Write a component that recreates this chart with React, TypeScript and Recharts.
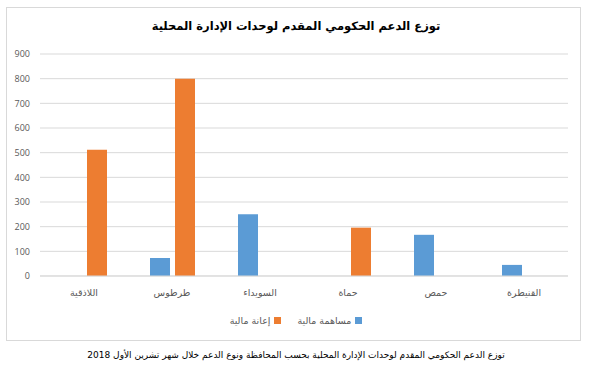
import { BarChart, Bar, XAxis, YAxis, CartesianGrid } from "recharts";

const CATEGORIES = ["اللاذقية", "طرطوس", "السويداء", "حماة", "حمص", "القنيطرة"];
const CONTRIBUTION = [0, 73, 250, 0, 167, 45]; // مساهمة مالية
const SUBSIDY = [512, 800, 0, 196, 0, 0]; // إعانة مالية
const Y_TICKS = [0, 100, 200, 300, 400, 500, 600, 700, 800, 900];

const SERIES = [
  { key: "contribution", name: "مساهمة مالية", color: "#5B9BD5" },
  { key: "subsidy", name: "إعانة مالية", color: "#ED7D31" },
];

const data = CATEGORIES.map((name, i) => ({
  name,
  contribution: CONTRIBUTION[i],
  subsidy: SUBSIDY[i],
}));

const ARABIC_FONT = "'DejaVu Sans', sans-serif";

export default function App() {
  return (
    <div
      style={{
        position: "absolute",
        left: 0,
        top: 0,
        width: 592,
        height: 372,
        background: "#fff",
        fontFamily: ARABIC_FONT,
      }}
    >
      <div
        style={{
          position: "absolute",
          left: 6,
          top: 7,
          width: 575,
          height: 334,
          border: "1px solid #d9d9d9",
          boxSizing: "border-box",
        }}
      />
      <div
        style={{
          position: "absolute",
          left: 0,
          top: 19,
          width: 592,
          textAlign: "center",
          fontSize: 11.5,
          fontWeight: "bold",
          color: "#000",
          direction: "rtl",
        }}
      >
        توزع الدعم الحكومي المقدم لوحدات الإدارة المحلية
      </div>
      <div style={{ position: "absolute", left: 0, top: 0 }}>
        <BarChart
          width={592}
          height={372}
          data={data}
          margin={{ top: 54, right: 24, left: 0, bottom: 66 }}
          barSize={20}
          barGap={5}
        >
          <CartesianGrid vertical={false} stroke="#d9d9d9" />
          <XAxis
            dataKey="name"
            axisLine={{ stroke: "#d9d9d9" }}
            tickLine={false}
            height={30}
            tickMargin={7}
            tick={{ fontSize: 9.5, fill: "#595959", fontFamily: ARABIC_FONT }}
          />
          <YAxis
            width={40}
            domain={[0, 900]}
            ticks={Y_TICKS}
            axisLine={false}
            tickLine={false}
            tickMargin={4}
            tick={{ fontSize: 9, fill: "#595959", fontFamily: "'Open Sans', sans-serif" }}
          />
          {SERIES.map((s) => (
            <Bar
              key={s.key}
              dataKey={s.key}
              name={s.name}
              fill={s.color}
              isAnimationActive={false}
            />
          ))}
        </BarChart>
      </div>
      <div
        style={{
          position: "absolute",
          left: 0,
          top: 315,
          width: 592,
          display: "flex",
          justifyContent: "center",
          direction: "rtl",
          gap: 16,
          fontSize: 9.5,
          color: "#595959",
        }}
      >
        {SERIES.map((s) => (
          <div key={s.key} style={{ display: "flex", alignItems: "center", gap: 4 }}>
            <span style={{ width: 7, height: 7, background: s.color, display: "inline-block" }} />
            <span>{s.name}</span>
          </div>
        ))}
      </div>
      <div
        style={{
          position: "absolute",
          left: 0,
          top: 350,
          width: 592,
          textAlign: "center",
          fontSize: 9,
          color: "#000",
          direction: "rtl",
        }}
      >
        توزع الدعم الحكومي المقدم لوحدات الإدارة المحلية بحسب المحافظة ونوع الدعم خلال شهر تشرين الأول 2018
      </div>
    </div>
  );
}
